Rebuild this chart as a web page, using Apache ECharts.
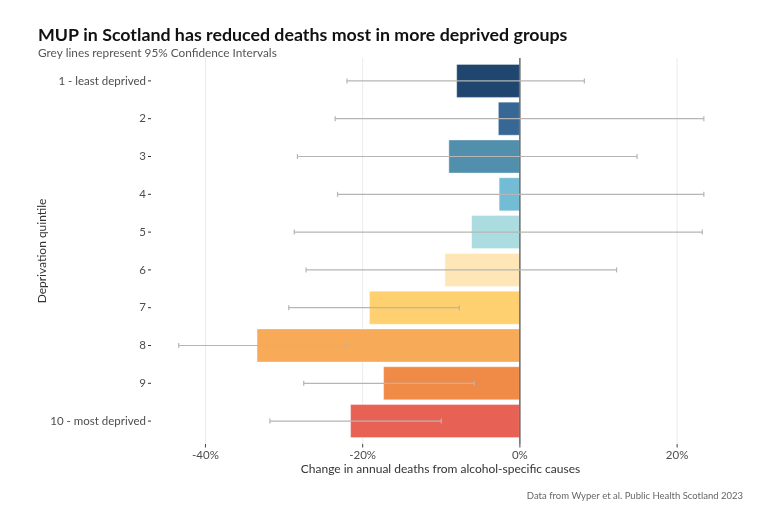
<!DOCTYPE html>
<html>
<head>
<meta charset="utf-8">
<script src="https://cdn.jsdelivr.net/npm/echarts@6/dist/echarts.min.js"></script>
<style>
html,body{margin:0;padding:0;background:#fff;}
#chart{width:775px;height:522px;}
</style>
</head>
<body>
<div id="chart"></div>
<script>
const categories = ['1 - least deprived','2','3','4','5','6','7','8','9','10 - most deprived'];
const change = [-8.1, -2.8, -9.1, -2.7, -6.2, -9.6, -19.2, -33.5, -17.4, -21.6];
const ciLow = [-22.0, -23.5, -28.3, -23.2, -28.7, -27.2, -29.4, -43.4, -27.5, -31.8];
const ciHigh = [8.2, 23.4, 14.9, 23.4, 23.2, 12.3, -7.7, -22.0, -5.8, -10.0];
const colors = ['#1e466e','#376795','#528fad','#72bcd5','#aadce0','#ffe6b7','#ffd06f','#f7aa58','#ef8a47','#e76254'];
const xTicks = [-40, -20, 0, 20];

const font = 'Lato';
const chart = echarts.init(document.getElementById('chart'));

const tickStyle = {stroke: '#333', lineWidth: 1};

chart.setOption({
  backgroundColor: '#fff',
  animation: false,
  title: [
    {
      text: 'MUP in Scotland has reduced deaths most in more deprived groups',
      subtext: 'Grey lines represent 95% Confidence Intervals',
      left: 33, top: 21, itemGap: 3,
      textStyle: {fontFamily: font, fontWeight: 'bold', fontSize: 17.8, color: '#111'},
      subtextStyle: {fontFamily: font, fontSize: 11.8, color: '#555'}
    },
    {
      text: 'Data from Wyper et al. Public Health Scotland 2023',
      right: 27, top: 486,
      textStyle: {fontFamily: font, fontWeight: 'normal', fontSize: 9.5, color: '#666'}
    }
  ],
  grid: {left: 152, right: 46, top: 62, bottom: 82, containLabel: false},
  xAxis: {
    type: 'value', min: -46.8, max: 26.6, offset: 4,
    name: 'Change in annual deaths from alcohol-specific causes',
    nameLocation: 'middle', nameGap: 19, nameMoveOverlap: false,
    nameTextStyle: {fontFamily: font, fontSize: 12, color: '#333'},
    axisLine: {show: false},
    axisTick: {show: false},
    axisLabel: {customValues: xTicks, margin: 5, fontFamily: font, fontSize: 11.5, color: '#4d4d4d',
      formatter: v => Math.round(v) + '%'},
    splitLine: {show: false}
  },
  yAxis: {
    type: 'category', data: categories, inverse: true,
    name: 'Deprivation quintile', nameLocation: 'middle', nameGap: 104, nameMoveOverlap: false,
    nameTextStyle: {fontFamily: font, fontSize: 12, color: '#333'},
    axisLine: {show: false},
    axisTick: {show: false},
    axisLabel: {margin: 6, fontFamily: font, fontSize: 11.5, color: '#4d4d4d'},
    splitLine: {show: false}
  },
  series: [
    {
      type: 'custom', z: 1, silent: true, clip: false,
      data: xTicks.map(v => [v]),
      encode: {x: 0},
      renderItem: function (params, api) {
        const cs = params.coordSys;
        const v = api.value(0);
        const x = api.coord([v, 0])[0];
        const yb = cs.y + cs.height;
        const children = [
          {type: 'line', shape: {x1: x, y1: yb + 4, x2: x, y2: yb + 7.5}, style: {stroke: '#444', lineWidth: 1}}
        ];
        if (v !== 0) {
          children.push({type: 'line', shape: {x1: x, y1: cs.y - 4, x2: x, y2: yb + 4}, style: {stroke: '#ebebeb', lineWidth: 1}});
        }
        return {type: 'group', children: children};
      }
    },
    {
      type: 'bar',
      barCategoryGap: '10%',
      data: change.map((v, i) => ({value: v, itemStyle: {color: colors[i]}})),
      itemStyle: {borderColor: 'rgba(255,255,255,0.35)', borderWidth: 1},
      z: 2
    },
    {
      type: 'custom', z: 3, silent: true, clip: false,
      data: [[0]],
      encode: {x: 0},
      renderItem: function (params, api) {
        const cs = params.coordSys;
        const x = api.coord([api.value(0), 0])[0];
        return {type: 'line', shape: {x1: x, y1: cs.y - 4, x2: x, y2: cs.y + cs.height + 4},
          style: {stroke: '#444', lineWidth: 1.2}};
      }
    },
    {
      type: 'custom',
      z: 4,
      data: ciLow.map((lo, i) => [lo, ciHigh[i], i]),
      encode: {x: [0, 1], y: 2},
      renderItem: function (params, api) {
        const idx = api.value(2);
        const p1 = api.coord([api.value(0), idx]);
        const p2 = api.coord([api.value(1), idx]);
        const h = 2.5;
        const st = {stroke: '#b5b5b5', lineWidth: 1.2};
        return {
          type: 'group',
          children: [
            {type: 'line', shape: {x1: p1[0], y1: p1[1], x2: p2[0], y2: p2[1]}, style: st},
            {type: 'line', shape: {x1: p1[0], y1: p1[1] - h, x2: p1[0], y2: p1[1] + h}, style: st},
            {type: 'line', shape: {x1: p2[0], y1: p2[1] - h, x2: p2[0], y2: p2[1] + h}, style: st}
          ]
        };
      }
    },
    {
      type: 'custom', z: 5, silent: true, clip: false,
      data: categories.map((c, i) => [i]),
      encode: {y: 0},
      renderItem: function (params, api) {
        const cs = params.coordSys;
        const y = api.coord([0, api.value(0)])[1];
        return {type: 'line', shape: {x1: cs.x - 4, y1: y, x2: cs.x - 1, y2: y}, style: tickStyle};
      }
    }
  ]
});
</script>
</body>
</html>
